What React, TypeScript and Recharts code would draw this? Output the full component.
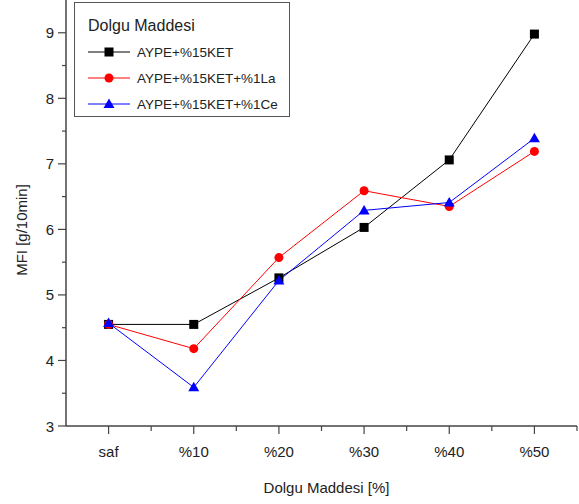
import { LineChart, Line, XAxis, YAxis, Legend } from 'recharts';

const categories = ['saf', '%10', '%20', '%30', '%40', '%50'];
const ketValues = [4.55, 4.55, 5.26, 6.03, 7.06, 8.98];
const laValues = [4.55, 4.18, 5.57, 6.59, 6.35, 7.19];
const ceValues = [4.57, 3.59, 5.22, 6.29, 6.41, 7.39];
const seriesNames = ['AYPE+%15KET', 'AYPE+%15KET+%1La', 'AYPE+%15KET+%1Ce'];
const xTicks = [0, 0.5, 1, 1.5, 2, 2.5, 3, 3.5, 4, 4.5, 5, 5.5];
const yTicks = [3, 3.5, 4, 4.5, 5, 5.5, 6, 6.5, 7, 7.5, 8, 8.5, 9];

const data = categories.map((c, i) => ({
  x: i,
  ket: ketValues[i],
  la: laValues[i],
  ce: ceValues[i],
}));

const FONT = '"Liberation Sans", Arial, sans-serif';
const AXIS = '#444';

const Square = (props: any) => (
  <rect key={`sq-${props.index}`} x={props.cx - 4.5} y={props.cy - 4.5} width={9} height={9} fill="#000" />
);
const Circle = (props: any) => (
  <circle key={`ci-${props.index}`} cx={props.cx} cy={props.cy} r={4.5} fill="#ff0000" />
);
const Triangle = (props: any) => (
  <polygon
    key={`tr-${props.index}`}
    points={`${props.cx},${props.cy - 5.5} ${props.cx - 5.5},${props.cy + 4} ${props.cx + 5.5},${props.cy + 4}`}
    fill="#0000ff"
  />
);

const series = [
  { key: 'ket', color: '#000000', name: seriesNames[0], dot: Square },
  { key: 'la', color: '#ff0000', name: seriesNames[1], dot: Circle },
  { key: 'ce', color: '#0000ff', name: seriesNames[2], dot: Triangle },
];

const XTick = ({ x, y, payload }: any) => {
  const v = payload.value;
  const major = Number.isInteger(v);
  return (
    <g>
      <line x1={x} x2={x} y1={y} y2={y + (major ? 8 : 5)} stroke={AXIS} strokeWidth={1.2} />
      {major && (
        <text x={x} y={y + 31} textAnchor="middle" fontSize={15} fill="#222" fontFamily={FONT}>
          {categories[v]}
        </text>
      )}
    </g>
  );
};

const YTick = ({ x, y, payload }: any) => {
  const v = payload.value;
  const major = Number.isInteger(v);
  return (
    <g>
      <line x1={x - (major ? 8 : 4)} x2={x} y1={y} y2={y} stroke={AXIS} strokeWidth={1.2} />
      {major && (
        <text x={x - 12} y={y + 5.5} textAnchor="end" fontSize={15} fill="#222" fontFamily={FONT}>
          {v}
        </text>
      )}
    </g>
  );
};

const LegendBox = () => (
  <div
    style={{
      width: 216,
      height: 115,
      boxSizing: 'border-box',
      border: '1px solid #555',
      background: '#fff',
      fontFamily: FONT,
      color: '#222',
      paddingLeft: 13,
      paddingTop: 13,
    }}
  >
    <div style={{ fontSize: 16, lineHeight: '20px', height: 20, marginBottom: 3 }}>Dolgu Maddesi</div>
    {series.map((s) => (
      <div key={s.key} style={{ display: 'flex', alignItems: 'center', height: 26 }}>
        <svg width={42} height={14} style={{ marginRight: 7 }}>
          <line x1={0} x2={42} y1={7} y2={7} stroke={s.color} strokeWidth={1} />
          <s.dot cx={21} cy={7} index={0} />
        </svg>
        <span style={{ fontSize: 13.5 }}>{s.name}</span>
      </div>
    ))}
  </div>
);

export default function App() {
  return (
    <div style={{ position: 'absolute', left: 0, top: 0, background: '#fff' }}>
      <LineChart width={579} height={504} data={data} margin={{ top: 0, right: 2, bottom: 0, left: 0 }}>
        <XAxis
          dataKey="x"
          type="number"
          domain={[-0.5, 5.5]}
          ticks={xTicks}
          interval={0}
          height={78}
          tickSize={0}
          tickMargin={0}
          tickLine={false}
          tick={<XTick />}
          axisLine={{ stroke: AXIS, strokeWidth: 1.5 }}
          label={{
            content: ({ viewBox }: any) => (
              <text
                x={viewBox.x + viewBox.width / 2 + 5}
                y={viewBox.y + 67}
                textAnchor="middle"
                fontSize={15}
                fill="#222"
                fontFamily={FONT}
              >
                Dolgu Maddesi [%]
              </text>
            ),
          }}
        />
        <YAxis
          type="number"
          domain={[3, 9.5]}
          ticks={yTicks}
          interval={0}
          width={66}
          tickSize={0}
          tickMargin={0}
          tickLine={false}
          tick={<YTick />}
          axisLine={{ stroke: AXIS, strokeWidth: 1.5 }}
          allowDataOverflow
          label={{
            content: ({ viewBox }: any) => {
              const cx = viewBox.x + 27;
              const cy = viewBox.y + viewBox.height / 2 + 17;
              return (
                <text
                  x={cx}
                  y={cy}
                  transform={`rotate(-90, ${cx}, ${cy})`}
                  textAnchor="middle"
                  fontSize={15}
                  fill="#222"
                  fontFamily={FONT}
                >
                  MFI [g/10min]
                </text>
              );
            },
          }}
        />
        <Legend
          layout="vertical"
          align="center"
          verticalAlign="middle"
          content={<LegendBox />}
          wrapperStyle={{ left: 74, top: 2, width: 216, height: 115 }}
        />
        {series.map((s) => (
          <Line
            key={s.key}
            dataKey={s.key}
            name={s.name}
            type="linear"
            stroke={s.color}
            strokeWidth={1}
            dot={s.dot}
            activeDot={false}
            isAnimationActive={false}
          />
        ))}
      </LineChart>
    </div>
  );
}
